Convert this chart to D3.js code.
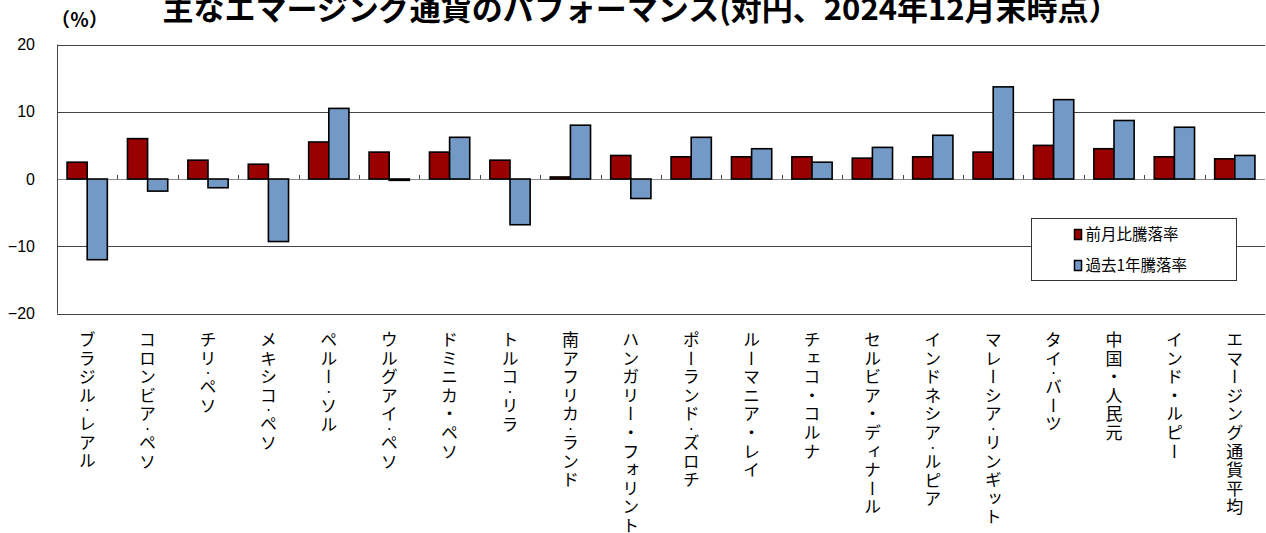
<!DOCTYPE html>
<html>
<head>
<meta charset="utf-8">
<script src="https://cdn.jsdelivr.net/npm/d3@7"></script>
<style>
  body { margin: 0; background: #fff; }
  svg { display: block; }
</style>
</head>
<body>
<div id="chart"></div>
<script>
// data
// "･" = narrow dot, "・" = full-width dot, as in the reference labels
const categories = [
  "ブラジル･レアル", "コロンビア･ペソ", "チリ･ペソ", "メキシコ･ペソ", "ペルー･ソル",
  "ウルグアイ･ペソ", "ドミニカ・ペソ", "トルコ･リラ", "南アフリカ･ランド", "ハンガリー・フォリント",
  "ポーランド･ズロチ", "ルーマニア・レイ", "チェコ・コルナ", "セルビア・ディナール", "インドネシア･ルピア",
  "マレーシア･リンギット", "タイ･バーツ", "中国・人民元", "インド・ルピー", "エマージング通貨平均"
];
const seriesNames = ["前月比騰落率", "過去1年騰落率"];
const monthChange = [2.5, 6.0, 2.8, 2.2, 5.5, 4.0, 4.0, 2.8, 0.3, 3.5, 3.3, 3.3, 3.3, 3.1, 3.3, 4.0, 5.0, 4.5, 3.3, 3.0];
const yearChange = [-12.0, -1.8, -1.3, -9.3, 10.5, -0.2, 6.2, -6.8, 8.0, -2.9, 6.2, 4.5, 2.5, 4.7, 6.5, 13.7, 11.8, 8.7, 7.7, 3.5];
const yTicks = [-20, -10, 0, 10, 20];

const width = 1266, height = 533;
const plot = {left: 57, right: 1265, top: 44.5, bottom: 313.5};
const colors = ["#990000", "#7399C6"];

const svg = d3.select("#chart").append("svg")
  .attr("width", width)
  .attr("height", height);

const rows = categories.map((c, i) => ({name: c, values: [monthChange[i], yearChange[i]]}));

const x = d3.scaleBand().domain(categories).range([plot.left, plot.right]);
const xInner = d3.scaleBand().domain(seriesNames).range([0, x.bandwidth()]).paddingOuter(0.5);
const y = d3.scaleLinear().domain([-20, 20]).range([plot.bottom, plot.top]);

// title (top is clipped by the window, as in the reference)
svg.append("text")
  .attr("x", 641)
  .attr("y", 20)
  .attr("text-anchor", "middle")
  .attr("font-family", "'Noto Sans CJK JP', sans-serif")
  .attr("font-weight", "bold")
  .attr("font-size", 30)
  .attr("textLength", 957)
  .attr("lengthAdjust", "spacingAndGlyphs")
  .text("主なエマージング通貨のパフォーマンス(対円、2024年12月末時点）");

// unit label
svg.append("text")
  .attr("x", 51)
  .attr("y", 27)
  .attr("font-family", "'Noto Sans CJK JP', sans-serif")
  .attr("font-weight", "bold")
  .attr("font-size", 19)
  .text("（％）");

// gridlines
svg.append("g")
  .selectAll("line")
  .data(yTicks)
  .join("line")
  .attr("x1", plot.left)
  .attr("x2", plot.right)
  .attr("y1", d => Math.round(y(d)) + 0.5)
  .attr("y2", d => Math.round(y(d)) + 0.5)
  .attr("stroke", d => d === 0 ? "#888" : "#444")
  .attr("stroke-width", 1);

// y axis labels
svg.append("g")
  .attr("font-family", "'Liberation Sans', Arial, sans-serif")
  .attr("font-size", 16)
  .selectAll("text")
  .data(yTicks)
  .join("text")
  .attr("x", 35)
  .attr("y", d => y(d))
  .attr("dy", "0.35em")
  .attr("text-anchor", "end")
  .text(d => d < 0 ? "−" + Math.abs(d) : d);

// left axis line
svg.append("line")
  .attr("x1", plot.left + 0.5).attr("x2", plot.left + 0.5)
  .attr("y1", plot.top).attr("y2", plot.bottom)
  .attr("stroke", "#444");

// category ticks on the zero line
svg.append("g")
  .selectAll("line")
  .data(categories.slice(1))
  .join("line")
  .attr("x1", d => Math.round(x(d)) + 0.5)
  .attr("x2", d => Math.round(x(d)) + 0.5)
  .attr("y1", Math.round(y(0)))
  .attr("y2", Math.round(y(0)) - 4)
  .attr("stroke", "#444");

// bars
const group = svg.append("g")
  .selectAll("g")
  .data(rows)
  .join("g")
  .attr("transform", d => `translate(${x(d.name)},0)`);

group.selectAll("rect")
  .data(d => d.values.map((v, i) => ({key: seriesNames[i], value: v, i: i})))
  .join("rect")
  .attr("x", d => xInner(d.key))
  .attr("y", d => y(Math.max(0, d.value)))
  .attr("width", xInner.bandwidth())
  .attr("height", d => Math.abs(y(d.value) - y(0)))
  .attr("fill", d => colors[d.i])
  .attr("stroke", "#000")
  .attr("stroke-width", 1.6);

// category labels, vertical; the narrow dot gets a half-size run
const labels = svg.append("g")
  .attr("font-family", "'Noto Sans CJK JP', sans-serif")
  .attr("font-size", 17)
  .selectAll("text")
  .data(categories)
  .join("text")
  .attr("x", d => x(d) + x.bandwidth() / 2)
  .attr("y", 331)
  .style("writing-mode", "vertical-rl")
  .style("letter-spacing", "1.6px");

labels.selectAll("tspan")
  .data(d => d.split(/(･)/).filter(s => s.length))
  .join("tspan")
  .attr("font-size", s => s === "･" ? 9 : null)
  .style("letter-spacing", s => s === "･" ? "1px" : null)
  .text(s => s === "･" ? "・" : s);

// legend
const legend = svg.append("g").attr("transform", "translate(1031.5,218.5)");
legend.append("rect")
  .attr("width", 205)
  .attr("height", 62)
  .attr("fill", "#fff")
  .attr("stroke", "#333");
const item = legend.selectAll("g")
  .data(seriesNames)
  .join("g")
  .attr("transform", (d, i) => `translate(43,${16 + i * 31})`);
item.append("rect")
  .attr("x", 0).attr("y", -5)
  .attr("width", 7).attr("height", 10)
  .attr("fill", (d, i) => colors[i])
  .attr("stroke", "#000")
  .attr("stroke-width", 1.5);
item.append("text")
  .attr("x", 11)
  .attr("dy", "0.36em")
  .attr("font-family", "'Noto Sans CJK JP', sans-serif")
  .attr("font-size", 15.5)
  .text(d => d);
</script>
</body>
</html>
